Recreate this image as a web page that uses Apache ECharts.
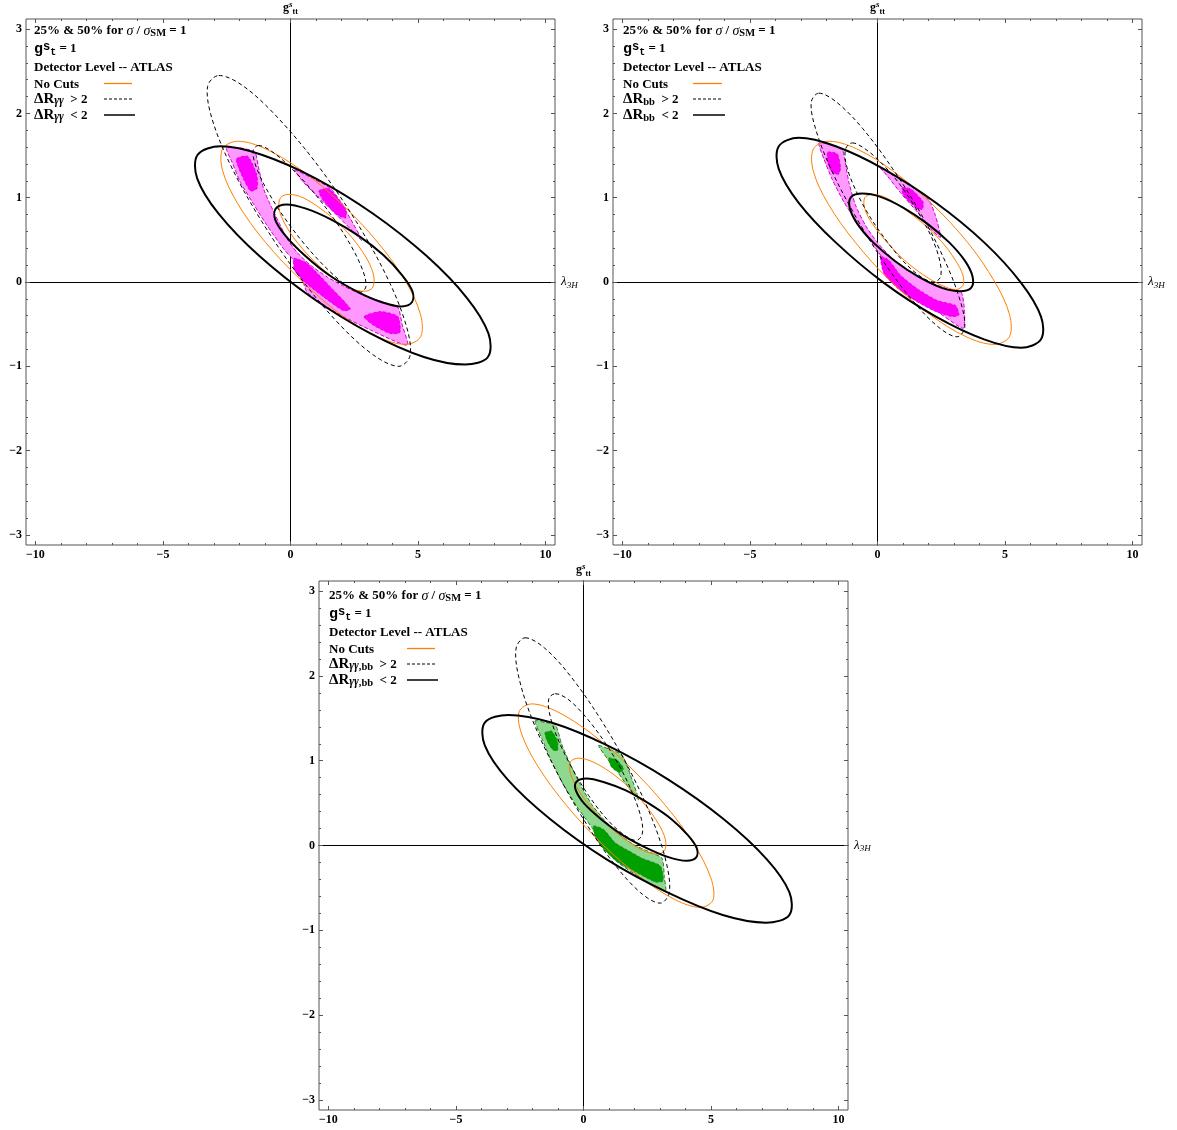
<!DOCTYPE html>
<html><head><meta charset="utf-8">
<script src="https://cdn.jsdelivr.net/npm/echarts@6/dist/echarts.min.js"></script>
<style>html,body{margin:0;padding:0;background:#fff}#c{width:1177px;height:1130px}</style>
</head><body><div id="c"></div><script>
// ---- tick values ----
const xMajor = [-10, -5, 0, 5, 10];
const xMinor = [-10,-9,-8,-7,-6,-5,-4,-3,-2,-1,0,1,2,3,4,5,6,7,8,9,10];
const yMajor = [-3, -2, -1, 0, 1, 2, 3];
const yMinor = [-3,-2.8,-2.6,-2.4,-2.2,-2,-1.8,-1.6,-1.4,-1.2,-1,-0.8,-0.6,-0.4,-0.2,0,0.2,0.4,0.6,0.8,1,1.2,1.4,1.6,1.8,2,2.2,2.4,2.6,2.8,3];

// ---- panel 1 (ΔR_γγ) contours ----
const p1BlackOuter = [[-2.75,1.61],[-1.13,1.51],[0.98,1.23],[3.24,0.81],[5.33,0.31],[6.92,-0.19],[7.76,-0.61],[7.74,-0.89],[6.85,-0.98],[5.23,-0.89],[3.13,-0.61],[0.86,-0.19],[-1.23,0.31],[-2.82,0.81],[-3.66,1.23],[-3.64,1.51]];
const p1BlackInner = [[-0.16,0.92],[0.61,0.87],[1.60,0.74],[2.66,0.55],[3.64,0.32],[4.38,0.08],[4.78,-0.11],[4.76,-0.24],[4.34,-0.29],[3.58,-0.24],[2.59,-0.11],[1.52,0.08],[0.54,0.32],[-0.20,0.55],[-0.60,0.74],[-0.58,0.87]];
const p1OrangeOuter = [[-2.07,1.67],[-0.98,1.58],[0.45,1.32],[1.99,0.93],[3.42,0.47],[4.51,0.01],[5.10,-0.39],[5.10,-0.65],[4.51,-0.74],[3.42,-0.65],[1.99,-0.39],[0.45,0.01],[-0.98,0.47],[-2.07,0.93],[-2.66,1.32],[-2.66,1.58]];
const p1OrangeInner = [[-0.07,1.04],[0.49,1.00],[1.18,0.87],[1.91,0.69],[2.56,0.47],[3.04,0.25],[3.27,0.06],[3.21,-0.07],[2.89,-0.11],[2.33,-0.07],[1.64,0.06],[0.91,0.25],[0.26,0.47],[-0.22,0.69],[-0.45,0.87],[-0.39,1.00]];
const p1DashedOuter = [[-2.81,2.45],[-1.83,2.32],[-0.47,1.94],[1.08,1.38],[2.57,0.72],[3.78,0.06],[4.52,-0.50],[4.69,-0.87],[4.25,-1.00],[3.27,-0.87],[1.91,-0.50],[0.36,0.06],[-1.13,0.72],[-2.34,1.38],[-3.08,1.94],[-3.25,2.32]];
const p1DashedInner = [[-1.26,1.62],[-0.74,1.55],[0.00,1.36],[0.86,1.08],[1.70,0.75],[2.39,0.42],[2.83,0.14],[2.96,-0.05],[2.75,-0.12],[2.23,-0.05],[1.49,0.14],[0.63,0.42],[-0.21,0.75],[-0.90,1.08],[-1.34,1.36],[-1.47,1.55]];
const p1Band50A = [[-2.51,1.59],[-2.29,1.42],[-1.96,1.18],[-1.50,0.95],[-0.92,0.67],[-0.26,0.39],[0.33,0.18],[0.65,-0.12],[1.83,-0.37],[3.14,-0.57],[4.58,-0.75],[4.38,-0.51],[4.21,-0.30],[3.66,-0.24],[2.88,-0.16],[2.09,-0.05],[1.44,0.06],[0.78,0.20],[0.26,0.35],[-0.13,0.51],[-0.46,0.71],[-0.78,0.91],[-1.05,1.10],[-1.24,1.34],[-1.40,1.54],[-1.96,1.59]];
const p1Band50B = [[0.16,1.33],[0.92,1.22],[1.57,1.11],[1.96,0.95],[2.35,0.75],[2.81,0.49],[2.35,0.63],[1.76,0.81],[1.05,1.02],[0.52,1.18]];
const p1Band25A = [[-2.12,1.46],[-1.67,1.49],[-1.33,1.28],[-1.31,1.11],[-1.57,1.08],[-1.93,1.28]];
const p1Band25B = [[1.11,1.08],[1.50,1.11],[2.16,0.87],[2.16,0.76],[1.80,0.80],[1.31,0.96]];
const p1Band25C = [[0.13,0.28],[0.65,0.22],[1.63,-0.08],[2.35,-0.32],[2.07,-0.34],[1.31,-0.18],[0.55,0.00],[0.16,0.14]];
const p1Band25D = [[2.88,-0.41],[3.53,-0.35],[4.21,-0.41],[4.29,-0.60],[3.90,-0.61],[3.24,-0.51]];

// ---- panel 2 (ΔR_bb) contours ----
const p2BlackOuter = [[-3.09,1.71],[-1.64,1.61],[0.25,1.34],[2.29,0.94],[4.18,0.47],[5.63,-0.01],[6.41,-0.41],[6.41,-0.68],[5.63,-0.78],[4.18,-0.68],[2.29,-0.41],[0.25,-0.01],[-1.64,0.47],[-3.09,0.94],[-3.87,1.34],[-3.87,1.61]];
const p2BlackInner = [[-0.60,1.05],[0.12,1.01],[1.02,0.88],[1.96,0.69],[2.81,0.47],[3.43,0.25],[3.73,0.06],[3.67,-0.07],[3.24,-0.11],[2.52,-0.07],[1.62,0.06],[0.68,0.25],[-0.17,0.47],[-0.79,0.69],[-1.09,0.88],[-1.03,1.01]];
const p2OrangeOuter = [[-1.91,1.67],[-0.82,1.58],[0.59,1.32],[2.12,0.93],[3.53,0.47],[4.60,0.00],[5.18,-0.39],[5.17,-0.65],[4.57,-0.74],[3.48,-0.65],[2.07,-0.39],[0.54,0.00],[-0.87,0.47],[-1.94,0.93],[-2.52,1.32],[-2.51,1.58]];
const p2OrangeInner = [[-0.21,1.04],[0.33,1.00],[1.03,0.87],[1.80,0.69],[2.51,0.48],[3.05,0.26],[3.35,0.08],[3.35,-0.04],[3.06,-0.09],[2.52,-0.04],[1.82,0.08],[1.05,0.26],[0.35,0.48],[-0.20,0.69],[-0.50,0.87],[-0.50,1.00]];
const p2DashedOuter = [[-2.30,2.24],[-1.59,2.13],[-0.58,1.82],[0.58,1.35],[1.72,0.80],[2.66,0.24],[3.25,-0.23],[3.42,-0.54],[3.12,-0.65],[2.41,-0.54],[1.40,-0.23],[0.24,0.24],[-0.90,0.80],[-1.84,1.35],[-2.43,1.82],[-2.60,2.13]];
const p2DashedInner = [[-0.99,1.65],[-0.49,1.58],[0.19,1.40],[0.92,1.14],[1.61,0.82],[2.15,0.51],[2.45,0.24],[2.47,0.06],[2.21,0.00],[1.71,0.06],[1.03,0.24],[0.30,0.51],[-0.39,0.82],[-0.93,1.14],[-1.23,1.40],[-1.25,1.58]];
const p2Band50A = [[-2.30,1.65],[-2.10,1.46],[-1.78,1.22],[-1.32,0.95],[-0.80,0.71],[-0.14,0.43],[0.38,0.20],[0.77,-0.04],[1.42,-0.20],[2.34,-0.35],[3.36,-0.55],[3.41,-0.35],[3.28,-0.12],[2.73,-0.08],[1.95,0.01],[1.16,0.14],[0.51,0.30],[-0.01,0.47],[-0.47,0.67],[-0.86,0.91],[-1.12,1.18],[-1.29,1.46],[-1.39,1.58],[-1.84,1.63]];
const p2Band50B = [[0.12,1.35],[0.77,1.24],[1.69,1.06],[2.01,0.98],[2.27,0.79],[2.47,0.53],[2.08,0.63],[1.56,0.83],[0.90,1.06],[0.38,1.26]];
const p2Band25A = [[-1.95,1.54],[-1.58,1.52],[-1.45,1.36],[-1.52,1.28],[-1.78,1.30],[-1.95,1.42]];
const p2Band25B = [[0.97,1.12],[1.32,1.10],[1.79,0.95],[1.75,0.86],[1.49,0.89],[1.03,1.02]];
const p2Band25C = [[0.12,0.30],[0.44,0.26],[0.90,0.08],[1.56,-0.08],[2.34,-0.22],[3.06,-0.28],[3.19,-0.39],[2.93,-0.41],[2.21,-0.34],[1.42,-0.21],[0.77,-0.07],[0.25,0.10]];

// ---- panel 3 (ΔR_γγ,bb) contours ----
const p3BlackOuter = [[-2.95,1.54],[-1.26,1.45],[0.93,1.18],[3.31,0.78],[5.50,0.31],[7.18,-0.16],[8.07,-0.55],[8.07,-0.82],[7.15,-0.91],[5.46,-0.82],[3.27,-0.55],[0.89,-0.16],[-1.30,0.31],[-2.98,0.78],[-3.87,1.18],[-3.87,1.45]];
const p3BlackInner = [[0.11,0.79],[0.78,0.75],[1.66,0.65],[2.59,0.49],[3.45,0.31],[4.10,0.12],[4.44,-0.03],[4.42,-0.14],[4.04,-0.18],[3.36,-0.14],[2.48,-0.03],[1.55,0.12],[0.69,0.31],[0.04,0.49],[-0.30,0.65],[-0.28,0.75]];
const p3OrangeOuter = [[-2.03,1.67],[-1.04,1.58],[0.31,1.32],[1.81,0.93],[3.22,0.47],[4.34,0.01],[4.99,-0.38],[5.08,-0.64],[4.59,-0.73],[3.60,-0.64],[2.25,-0.38],[0.76,0.01],[-0.66,0.47],[-1.78,0.93],[-2.43,1.32],[-2.52,1.58]];
const p3OrangeInner = [[-0.20,1.03],[0.34,0.99],[1.03,0.87],[1.77,0.69],[2.44,0.47],[2.95,0.25],[3.21,0.07],[3.18,-0.06],[2.88,-0.10],[2.34,-0.06],[1.65,0.07],[0.91,0.25],[0.24,0.47],[-0.27,0.69],[-0.53,0.87],[-0.50,0.99]];
const p3DashedOuter = [[-2.29,2.45],[-1.53,2.33],[-0.49,1.99],[0.69,1.48],[1.81,0.89],[2.72,0.29],[3.26,-0.22],[3.36,-0.56],[3.01,-0.68],[2.25,-0.56],[1.21,-0.22],[0.04,0.29],[-1.09,0.89],[-2.00,1.48],[-2.54,1.99],[-2.64,2.33]];
const p3DashedInner = [[-1.11,1.79],[-0.63,1.73],[0.02,1.54],[0.74,1.26],[1.42,0.93],[1.96,0.59],[2.27,0.31],[2.30,0.13],[2.06,0.06],[1.57,0.13],[0.92,0.31],[0.20,0.59],[-0.48,0.93],[-1.01,1.26],[-1.32,1.54],[-1.36,1.73]];
const p3Band50A = [[-1.90,1.47],[-1.64,1.27],[-1.25,0.99],[-0.79,0.72],[-0.26,0.46],[0.33,0.21],[0.85,-0.03],[1.31,-0.19],[2.23,-0.38],[3.21,-0.54],[3.17,-0.38],[3.08,-0.15],[2.62,-0.08],[1.97,0.01],[1.31,0.15],[0.79,0.31],[0.33,0.48],[-0.13,0.72],[-0.52,0.96],[-0.85,1.19],[-1.11,1.43],[-1.51,1.45]];
const p3Band50B = [[0.59,1.18],[1.05,1.13],[1.51,1.07],[1.83,0.84],[2.16,0.54],[1.77,0.68],[1.31,0.88],[0.92,1.03]];
const p3Band25A = [[-1.51,1.33],[-1.25,1.35],[-1.02,1.23],[-1.02,1.12],[-1.21,1.13],[-1.42,1.23]];
const p3Band25B = [[0.98,1.03],[1.31,1.01],[1.57,0.91],[1.42,0.86],[1.11,0.92]];
const p3Band25C = [[0.39,0.23],[0.79,0.19],[1.25,0.03],[1.70,-0.05],[2.29,-0.15],[3.01,-0.24],[3.12,-0.42],[2.82,-0.43],[2.10,-0.32],[1.31,-0.19],[0.79,-0.04],[0.46,0.10]];

// ---- legend labels ----
const cutNames = ['γγ', 'bb', 'γγ,bb'];

// ================= layout & styling =================
const serif = "'Liberation Serif','DejaVu Serif',serif";
const mono = "'Liberation Mono','DejaVu Sans Mono',monospace";
const COL = { orange:'#ff8000', frame:'#555' };
const themes = [
  { light:'#ff99ff', dark:'#ff00ff', edge:'#cc00cc' },
  { light:'#ff99ff', dark:'#ff00ff', edge:'#cc00cc' },
  { light:'#8fd88f', dark:'#00a000', edge:'#2a7a2a' }
];
const grids = [
  { left:26,  top:16,  width:529, height:529, tx:8,  sx1:78, sx2:106, sx3:109 },
  { left:613, top:16,  width:529, height:529, tx:10, sx1:80, sx2:109, sx3:112 },
  { left:319, top:581, width:529, height:529, tx:10, sx1:88, sx2:116, sx3:119 }
];
const X_MIN = -10.37, X_MAX = 10.37, Y_MIN = -3.12, Y_MAX = 3.12;
const fmt = v => (v < 0 ? '\u2212' + (-v) : String(v));

const option = {
  animation: false,
  backgroundColor: '#fff',
  grid: grids.map(g => ({ left:g.left, top:g.top, width:g.width, height:g.height, show:true, borderColor:COL.frame, borderWidth:1, backgroundColor:'transparent', containLabel:false })),
  xAxis: [], yAxis: [], series: [], graphic: []
};

const panelCurves = [
  { bands50:[p1Band50A,p1Band50B], bands25:[p1Band25A,p1Band25B,p1Band25C,p1Band25D], orange:[p1OrangeOuter,p1OrangeInner], dashed:[p1DashedOuter,p1DashedInner], solid:[p1BlackOuter,p1BlackInner] },
  { bands50:[p2Band50A,p2Band50B], bands25:[p2Band25A,p2Band25B,p2Band25C], orange:[p2OrangeOuter,p2OrangeInner], dashed:[p2DashedOuter,p2DashedInner], solid:[p2BlackOuter,p2BlackInner] },
  { bands50:[p3Band50A,p3Band50B], bands25:[p3Band25A,p3Band25B,p3Band25C], orange:[p3OrangeOuter,p3OrangeInner], dashed:[p3DashedOuter,p3DashedInner], solid:[p3BlackOuter,p3BlackInner] }
];

function addShape(gi, name, pts, style, smooth, z) {
  option.series.push({
    type:'custom', name, xAxisIndex: gi*5, yAxisIndex: gi*5, data: pts, z, silent:true,
    renderItem: (params, api) => {
      if (params.dataIndex !== 0) return null;
      return { type:'polygon', shape:{ points: pts.map(p => api.coord(p)), smooth }, style };
    }
  });
}

grids.forEach((g, gi) => {
  const base = gi*5;
  option.xAxis.push({
    type:'value', gridIndex:gi, min:X_MIN, max:X_MAX, position:'bottom',
    axisLine:{ show:true, onZero:true, onZeroAxisIndex:base, lineStyle:{ color:'#000', width:1 } },
    axisTick:{ show:false }, axisLabel:{ show:false }, splitLine:{ show:false },
    name:'{l|λ}{s|3H}', nameLocation:'end', nameGap:6,
    nameTextStyle:{ rich:{
      l:{ fontFamily:serif, fontStyle:'italic', fontSize:13, color:'#000', lineHeight:16 },
      s:{ fontFamily:serif, fontStyle:'italic', fontSize:9, color:'#000', lineHeight:10, verticalAlign:'bottom' } } }
  });
  const frameX = (pos, vals, len, labels) => ({
    type:'value', gridIndex:gi, min:X_MIN, max:X_MAX, position:pos,
    axisLine:{ show:false, onZero:false }, splitLine:{ show:false },
    axisTick:{ show:true, inside:true, length:len, customValues:vals, lineStyle:{ color:COL.frame, width:1 } },
    axisLabel: labels ? { show:true, customValues:vals, formatter:fmt, margin:4, fontFamily:serif, fontWeight:'bold', fontSize:12, color:'#000' } : { show:false }
  });
  option.xAxis.push(frameX('bottom', xMajor, 4, true), frameX('bottom', xMinor, 2, false), frameX('top', xMajor, 4, false), frameX('top', xMinor, 2, false));

  option.yAxis.push({
    type:'value', gridIndex:gi, min:Y_MIN, max:Y_MAX, position:'left',
    axisLine:{ show:true, onZero:true, onZeroAxisIndex:base, lineStyle:{ color:'#000', width:1 } },
    axisTick:{ show:false }, axisLabel:{ show:false }, splitLine:{ show:false },
    name:'{g|g}{p|s}{b|tt}', nameLocation:'end', nameGap:3,
    nameTextStyle:{ rich:{
      g:{ fontFamily:serif, fontWeight:'bold', fontSize:12, color:'#000', lineHeight:16 },
      p:{ fontFamily:serif, fontWeight:'bold', fontStyle:'italic', fontSize:9, color:'#000', lineHeight:10, verticalAlign:'top' },
      b:{ fontFamily:serif, fontWeight:'bold', fontSize:8, color:'#000', lineHeight:9, verticalAlign:'bottom' } } }
  });
  const frameY = (pos, vals, len, labels) => ({
    type:'value', gridIndex:gi, min:Y_MIN, max:Y_MAX, position:pos,
    axisLine:{ show:false, onZero:false }, splitLine:{ show:false },
    axisTick:{ show:true, inside:true, length:len, customValues:vals, lineStyle:{ color:COL.frame, width:1 } },
    axisLabel: labels ? { show:true, customValues:vals, formatter:fmt, margin:4, fontFamily:serif, fontWeight:'bold', fontSize:12, color:'#000' } : { show:false }
  });
  option.yAxis.push(frameY('left', yMajor, 4, true), frameY('left', yMinor, 2, false), frameY('right', yMajor, 4, false), frameY('right', yMinor, 2, false));

  // contours
  const th = themes[gi], pc = panelCurves[gi];
  pc.bands50.forEach((b, k) => addShape(gi, '50% region ' + k, b, { fill:th.light, stroke:th.edge, lineWidth:1, lineDash:[4,2] }, 0.2, 2));
  pc.bands25.forEach((b, k) => addShape(gi, '25% region ' + k, b, { fill:th.dark, stroke:th.edge, lineWidth:0.8, lineDash:[3,2] }, 0.2, 3));
  pc.orange.forEach((c, k) => addShape(gi, 'No Cuts ' + k, c, { fill:'none', stroke:COL.orange, lineWidth:1 }, 0.34, 4));
  pc.dashed.forEach((c, k) => addShape(gi, 'ΔR > 2 ' + k, c, { fill:'none', stroke:'#000', lineWidth:1, lineDash:[4,3] }, 0.34, 5));
  pc.solid.forEach((c, k) => addShape(gi, 'ΔR < 2 ' + k, c, { fill:'none', stroke:'#000', lineWidth:2 }, 0.34, 6));

  // legend block
  const rich = {
    b:{ fontFamily:serif, fontWeight:'bold', fontSize:13, fill:'#000', lineHeight:16 },
    d:{ fontFamily:serif, fontWeight:'bold', fontSize:15, fill:'#000', lineHeight:16 },
    i:{ fontFamily:serif, fontStyle:'italic', fontSize:14, fill:'#000', lineHeight:16 },
    sub:{ fontFamily:serif, fontWeight:'bold', fontSize:10.5, fill:'#000', lineHeight:10, verticalAlign:'bottom' },
    subi:{ fontFamily:serif, fontWeight:'bold', fontStyle:'italic', fontSize:11.5, fill:'#000', lineHeight:10, verticalAlign:'bottom' },
    m:{ fontFamily:mono, fontWeight:'bold', fontSize:15, fill:'#000', lineHeight:16 },
    msup:{ fontFamily:mono, fontWeight:'bold', fontSize:12, fill:'#000', lineHeight:10, verticalAlign:'top' },
    msub:{ fontFamily:mono, fontWeight:'bold', fontSize:10, fill:'#000', lineHeight:9, verticalAlign:'bottom' }
  };
  const cn = cutNames[gi];
  const cutRich = cn === 'bb' ? '{sub|bb}' : (cn === 'γγ' ? '{subi|γγ}' : '{subi|γγ}{sub|,bb}');
  const lines = [
    ['{b|25% & 50% for }{i|σ}{b| / }{i|σ}{sub|SM}{b| = 1}', 15],
    ['{m|g}{msup|s}{msub|t}{b| = 1}', 33],
    ['{b|Detector Level -- ATLAS}', 51.5],
    ['{b|No Cuts}', 68.5],
    ['{d|ΔR}' + cutRich + '{b|  > 2}', 83.5],
    ['{d|ΔR}' + cutRich + '{b|  < 2}', 99.5]
  ];
  lines.forEach(([t, dy]) => option.graphic.push({
    type:'text', x: g.left + g.tx, y: g.top + dy, z: 20, silent:true,
    style:{ text:t, rich, align:'left', verticalAlign:'middle' }
  }));
  option.graphic.push(
    { type:'line', z:20, silent:true, shape:{ x1:g.left+g.sx1, y1:g.top+67.5, x2:g.left+g.sx2, y2:g.top+67.5 }, style:{ stroke:COL.orange, lineWidth:1.3 } },
    { type:'line', z:20, silent:true, shape:{ x1:g.left+g.sx1, y1:g.top+83, x2:g.left+g.sx2, y2:g.top+83 }, style:{ stroke:'#000', lineWidth:1, lineDash:[3,2] } },
    { type:'line', z:20, silent:true, shape:{ x1:g.left+g.sx1, y1:g.top+99, x2:g.left+g.sx3, y2:g.top+99 }, style:{ stroke:'#000', lineWidth:1.5 } }
  );
});

const chart = echarts.init(document.getElementById('c'), null, { renderer:'canvas' });
chart.setOption(option);
</script></body></html>
